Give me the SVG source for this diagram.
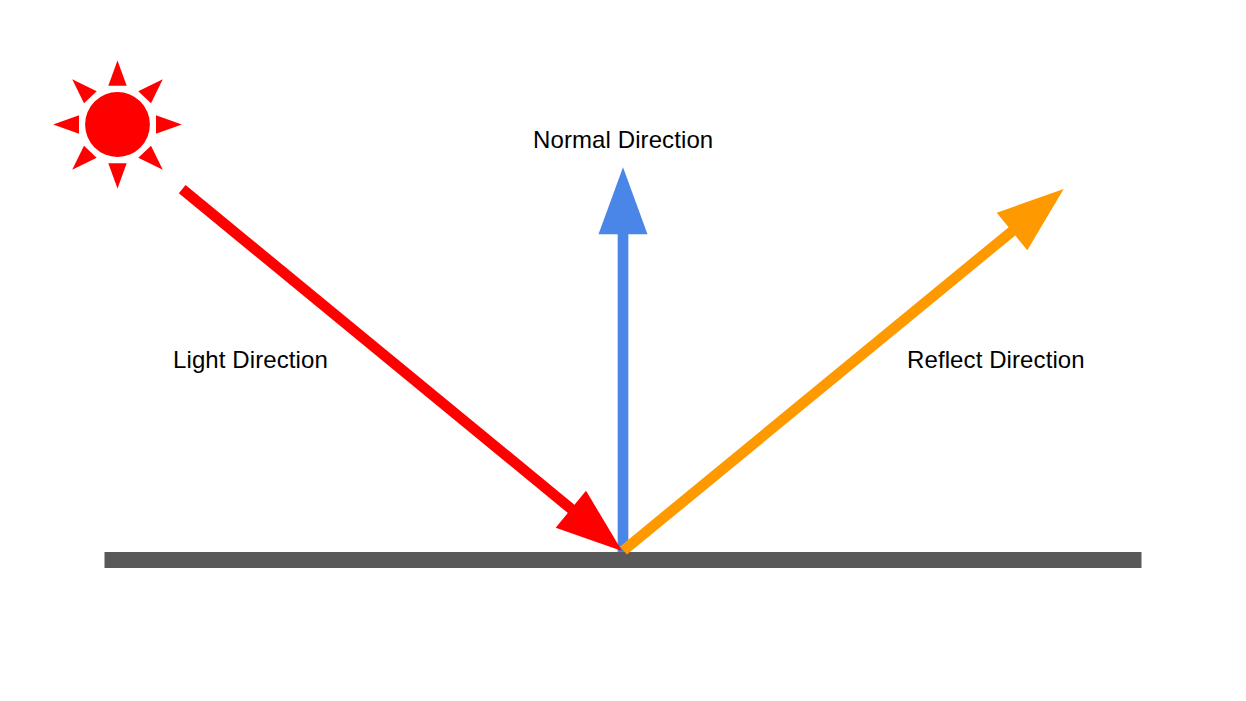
<svg xmlns="http://www.w3.org/2000/svg" width="1246" height="701" viewBox="0 0 1246 701">
<style>
.t{font-family:"Liberation Sans",Arial,sans-serif;font-size:24px;fill:#000;letter-spacing:.1px}
.red{fill:#f00}
.l{fill:none;stroke-width:10.67}
</style>
<rect width="1246" height="701" fill="#fff"/>
<g id="sun" class="red">
<circle cx="117.5" cy="124.5" r="32.4"/>
<path d="M117.5 60.500L126.700 85.800H108.300Z"/>
<path d="M117.5 188.500L126.700 163.200H108.300Z"/>
<path d="M53.200 124.500L79 115.300V133.700Z"/>
<path d="M181.800 124.500L156 115.300V133.700Z"/>
<path d="M162.800 79.300L138.300 91.300L151 103.300Z"/>
<path d="M72.200 79.300L96.700 91.300L84 103.300Z"/>
<path d="M162.800 169.700L138.300 157.700L151 145.700Z"/>
<path d="M72.200 169.700L96.700 157.700L84 145.700Z"/>
</g>
<g id="surface"><rect x="104.500" y="552" width="1037" height="16" fill="#595959"/></g>
<g id="connectors">
<g id="normal-arrow"><path class="l" stroke="#4a86e8" d="M623 552V230"/><path fill="#4a86e8" d="M623 167.300L647.500 234.300H598.500Z"/></g>
<g id="light-arrow"><path class="l" stroke="#f00" d="M182.200 189.200L575 512"/><path fill="#f00" d="M622 551L555.700 527.700L586 490.700Z"/></g>
<g id="reflect-arrow"><path class="l" stroke="#f90" d="M623.500 550.500L1016 228"/><path fill="#f90" d="M1063.700 189L1027.300 250.300L996.700 212.700Z"/></g>
</g>
<g id="label-light"><text class="t" x="173" y="368">Light Direction</text></g>
<g id="label-normal"><text class="t" x="533" y="148">Normal Direction</text></g>
<g id="label-reflect"><text class="t" x="907" y="368">Reflect Direction</text></g>
</svg>
